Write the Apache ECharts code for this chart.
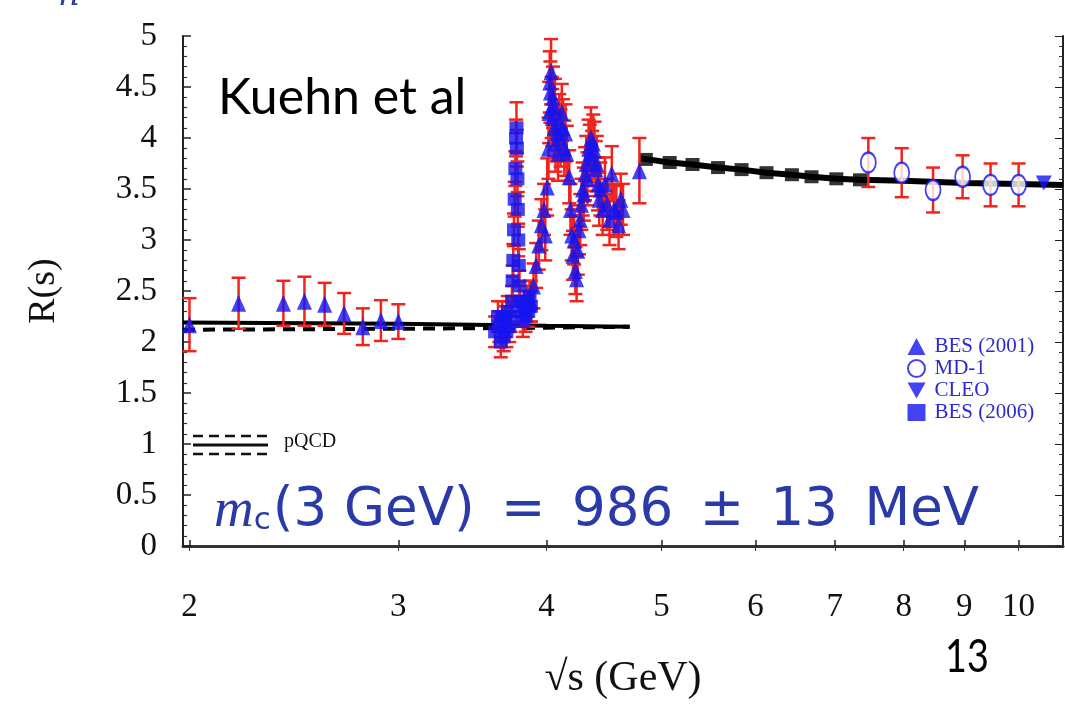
<!DOCTYPE html>
<html>
<head>
<meta charset="utf-8">
<script src="https://cdn.jsdelivr.net/npm/echarts@6/dist/echarts.min.js"></script>
<style>
html,body{margin:0;padding:0;background:#fff;}
#chart{width:1065px;height:705px;}
</style>
</head>
<body>
<div id="chart"></div>
<script>
// ---------------- data ----------------
const xTickValues = [2, 3, 4, 5, 6, 7, 8, 9, 10];
const yTickLabels = ['0', '0.5', '1', '1.5', '2', '2.5', '3', '3.5', '4', '4.5', '5'];

// BES (2001): [sqrt(s) GeV, R, error]
const bes2001Low = [
  [2.00, 2.17, 0.26], [2.20, 2.38, 0.25], [2.40, 2.38, 0.22], [2.50, 2.40, 0.24],
  [2.60, 2.37, 0.21], [2.70, 2.28, 0.20], [2.80, 2.15, 0.18], [2.90, 2.21, 0.20],
  [3.00, 2.20, 0.17]
];
const bes2001Res = [
  [3.88, 2.40, 0.20], [3.90, 2.55, 0.22], [3.92, 2.75, 0.22], [3.94, 2.95, 0.24],
  [3.96, 3.15, 0.25], [3.98, 3.30, 0.25], [3.99, 3.05, 0.25], [4.005, 3.52, 0.28],
  [4.015, 3.90, 0.30], [4.020, 4.25, 0.30], [4.025, 4.55, 0.30], [4.030, 4.45, 0.30],
  [4.035, 4.65, 0.32], [4.040, 4.30, 0.30], [4.045, 4.20, 0.28], [4.050, 4.40, 0.30],
  [4.060, 4.10, 0.28], [4.065, 4.30, 0.28], [4.070, 3.95, 0.28], [4.080, 4.05, 0.28],
  [4.090, 3.85, 0.27], [4.100, 4.15, 0.28], [4.110, 4.00, 0.28], [4.120, 4.25, 0.28],
  [4.130, 4.10, 0.28], [4.140, 3.90, 0.27], [4.150, 4.05, 0.28], [4.160, 3.85, 0.27],
  [4.180, 3.62, 0.26], [4.190, 3.30, 0.25], [4.200, 3.05, 0.25], [4.210, 2.85, 0.24],
  [4.220, 3.00, 0.24], [4.230, 2.70, 0.23], [4.240, 2.62, 0.22], [4.250, 2.90, 0.24],
  [4.260, 3.10, 0.24], [4.270, 3.20, 0.25], [4.280, 3.35, 0.25], [4.290, 3.50, 0.26],
  [4.300, 3.45, 0.26], [4.310, 3.65, 0.26], [4.320, 3.75, 0.27], [4.330, 3.60, 0.26],
  [4.340, 3.90, 0.28], [4.350, 3.85, 0.28], [4.360, 4.00, 0.30], [4.370, 3.80, 0.27],
  [4.380, 3.95, 0.28], [4.390, 3.88, 0.28], [4.400, 3.70, 0.27], [4.410, 3.75, 0.27],
  [4.420, 3.55, 0.26], [4.430, 3.40, 0.26], [4.440, 3.50, 0.26], [4.460, 3.30, 0.25],
  [4.480, 3.55, 0.26], [4.500, 3.35, 0.25], [4.520, 3.20, 0.25], [4.540, 3.65, 0.27],
  [4.560, 3.30, 0.25], [4.580, 3.28, 0.25], [4.600, 3.15, 0.24], [4.620, 3.40, 0.25],
  [4.640, 3.30, 0.25], [4.790, 3.68, 0.32]
];
// BES (2006)
const bes2006 = [
  [3.620, 2.10, 0.15], [3.640, 2.25, 0.15],
  [3.650, 2.15, 0.15], [3.660, 2.00, 0.15], [3.670, 2.25, 0.15], [3.680, 2.05, 0.14],
  [3.690, 2.20, 0.15], [3.700, 2.10, 0.15], [3.710, 2.30, 0.15], [3.720, 2.15, 0.15],
  [3.730, 2.25, 0.15], [3.740, 2.40, 0.15], [3.745, 2.60, 0.15], [3.750, 2.80, 0.16],
  [3.755, 3.10, 0.16], [3.760, 3.40, 0.17], [3.765, 3.70, 0.17], [3.770, 4.00, 0.18],
  [3.773, 4.10, 0.25], [3.776, 3.90, 0.18], [3.780, 3.60, 0.17], [3.783, 3.30, 0.17],
  [3.786, 3.00, 0.16], [3.790, 2.75, 0.16], [3.795, 2.55, 0.15], [3.800, 2.40, 0.15],
  [3.810, 2.30, 0.15], [3.820, 2.20, 0.15], [3.830, 2.35, 0.15], [3.840, 2.25, 0.15],
  [3.850, 2.40, 0.15], [3.860, 2.30, 0.15], [3.870, 2.45, 0.15], [3.880, 2.35, 0.15]
];
// MD-1
const md1 = [
  [7.47, 3.76, 0.24], [7.97, 3.66, 0.24], [8.47, 3.49, 0.22],
  [8.97, 3.62, 0.21], [9.47, 3.54, 0.21], [10.0, 3.54, 0.21]
];
// CLEO
const cleo = [[10.5, 3.56, 0.05]];

// pQCD curves
const pqcdLowSolid = [[1.975, 2.19], [3.0, 2.18], [4.0, 2.16], [4.7, 2.15]];
const pqcdLowDashed = [[1.975, 2.12], [3.0, 2.13], [4.0, 2.14], [4.7, 2.15]];
const pqcdHigh = [
  [4.80, 3.80], [5.08, 3.76], [5.31, 3.74], [5.58, 3.71], [5.84, 3.69], [6.13, 3.66],
  [6.44, 3.64], [6.69, 3.62], [7.02, 3.60], [7.35, 3.59], [8.0, 3.58], [9.0, 3.56],
  [10.0, 3.55], [10.9, 3.54]
];
const pqcdPoints = [
  [4.85, 3.79], [5.08, 3.76], [5.31, 3.74], [5.58, 3.71], [5.84, 3.69], [6.13, 3.66],
  [6.44, 3.64], [6.69, 3.62], [7.02, 3.60], [7.35, 3.59]
];

// ---------------- style ----------------
const BLUE = '#1414f0';
const RED = '#f0241c';
const FORM = '#2a3aa8';
const SERIF = '"Liberation Serif", "DejaVu Serif", serif';

const allErr = bes2001Low.concat(bes2001Res, bes2006, md1);

function errRender(params, api) {
  const x = api.value(0), y = api.value(1), e = api.value(2);
  const pLo = api.coord([x, y - e]);
  const pHi = api.coord([x, y + e]);
  const w = 7;
  const st = { stroke: RED, lineWidth: 2.5 };
  return {
    type: 'group',
    children: [
      { type: 'line', shape: { x1: pLo[0], y1: pLo[1], x2: pHi[0], y2: pHi[1] }, style: st },
      { type: 'line', shape: { x1: pLo[0] - w, y1: pLo[1], x2: pLo[0] + w, y2: pLo[1] }, style: st },
      { type: 'line', shape: { x1: pHi[0] - w, y1: pHi[1], x2: pHi[0] + w, y2: pHi[1] }, style: st }
    ]
  };
}

const DOWN_TRI = 'path://M0,0L20,0L10,18Z';
const ENSP = '\u2002';

const chart = echarts.init(document.getElementById('chart'), null, { renderer: 'canvas' });
const option = {
  animation: false,
  backgroundColor: '#fff',
  grid: { left: 183, right: 2, top: 36, bottom: 150, show: false },
  xAxis: [{
    type: 'log', logBase: 10, min: 1.975, max: 10.9,
    position: 'bottom',
    axisLine: { show: true, lineStyle: { color: '#222', width: 2 } },
    axisTick: { show: true, inside: true, length: 6, customValues: xTickValues, lineStyle: { color: '#222', width: 1.5 } },
    minorTick: { show: false },
    splitLine: { show: false },
    axisLabel: { customValues: xTickValues, margin: 45, fontFamily: SERIF, fontSize: 33, color: '#111' },
    name: '√s (GeV)', nameLocation: 'middle', nameGap: 112,
    nameTextStyle: { fontFamily: SERIF, fontSize: 42, color: '#111' }
  }, {
    type: 'log', logBase: 10, min: 1.975, max: 10.9,
    position: 'top',
    axisLine: { show: true, lineStyle: { color: '#333', width: 3 } },
    axisTick: { show: true, inside: true, length: 5, customValues: xTickValues, lineStyle: { color: '#333' } },
    axisLabel: { show: false },
    splitLine: { show: false }
  }],
  yAxis: [{
    type: 'value', min: 0, max: 5, interval: 0.5,
    axisLine: { show: true, lineStyle: { color: '#222', width: 2 } },
    axisTick: { show: true, inside: true, length: 8, lineStyle: { color: '#222', width: 1.5 } },
    minorTick: { show: true, splitNumber: 5, length: 4, lineStyle: { color: '#333', width: 1.2 } },
    splitLine: { show: false },
    axisLabel: { margin: 26, fontFamily: SERIF, fontSize: 33, color: '#111',
      formatter: function (v) { return yTickLabels[Math.round(v / 0.5)]; } },
    name: 'R(s)', nameLocation: 'middle', nameGap: 120, nameRotate: 90,
    nameTextStyle: { fontFamily: SERIF, fontSize: 38, color: '#111' }
  }, {
    type: 'value', min: 0, max: 5, interval: 0.5, position: 'right',
    axisLine: { show: true, lineStyle: { color: '#222', width: 2 } },
    axisTick: { show: true, inside: true, length: 8, lineStyle: { color: '#222' } },
    minorTick: { show: true, splitNumber: 5, length: 4, lineStyle: { color: '#333' } },
    splitLine: { show: false },
    axisLabel: { show: false }
  }],
  legend: {
    orient: 'vertical', left: 902, top: 331,
    itemWidth: 18, itemHeight: 17, itemGap: 1,
    textStyle: { fontFamily: SERIF, fontSize: 21, lineHeight: 21, color: '#2a2ad0', padding: [0, 0, 0, 4] },
    data: [
      { name: 'BES (2001)', icon: 'triangle' },
      { name: 'MD-1', icon: 'emptyCircle' },
      { name: 'CLEO', icon: DOWN_TRI },
      { name: 'BES (2006)', icon: 'rect' }
    ]
  },
  graphic: [
    { type: 'text', left: 218, top: 73, style: { text: 'Kuehn et al', font: '50px Lato, "Open Sans", sans-serif', fill: '#000' } },
    { type: 'text', left: 945, top: 634, scaleX: 0.82, style: { text: '13', font: '46px Lato, sans-serif', fill: '#000' } },
    { type: 'text', left: 214, top: 484, style: {
        text: '{m|m}{c|c}{t|(3 GeV)' + ENSP + '=' + ENSP + '986' + ENSP + '±' + ENSP + '13' + ENSP + 'MeV}',
        rich: {
          m: { fontFamily: SERIF, fontStyle: 'italic', fontSize: 55, fill: FORM },
          c: { fontFamily: '"DejaVu Sans", sans-serif', fontSize: 31, fill: FORM, padding: [18, 2, 0, 0] },
          t: { fontFamily: '"DejaVu Sans", sans-serif', fontSize: 53, fill: FORM }
        }
      } },
    // pQCD key
    { type: 'line', shape: { x1: 193, y1: 436, x2: 268, y2: 436 }, style: { stroke: '#111', lineWidth: 2.5, lineDash: [10, 6] } },
    { type: 'line', shape: { x1: 193, y1: 445, x2: 268, y2: 445 }, style: { stroke: '#111', lineWidth: 3 } },
    { type: 'line', shape: { x1: 193, y1: 454, x2: 268, y2: 454 }, style: { stroke: '#111', lineWidth: 2.5, lineDash: [10, 6] } },
    { type: 'text', left: 284, top: 432, style: { text: 'pQCD', font: '20px "Liberation Serif", serif', fill: '#111' } },
    // partial glyph at top-left
    { type: 'text', left: 20, top: -40, style: {
        text: '{a|σ}{b|h}',
        rich: {
          a: { fontFamily: '"DejaVu Serif", serif', fontStyle: 'italic', fontSize: 48, fill: '#444' },
          b: { fontFamily: '"DejaVu Serif", serif', fontStyle: 'italic', fontSize: 34, fill: '#2b3fa0', padding: [24, 0, 0, 6] }
        }
      } }
  ],
  series: [
    { name: 'pQCD-low', type: 'line', data: pqcdLowSolid, symbol: 'none', lineStyle: { color: '#000', width: 4 }, z: 1, silent: true },
    { name: 'pQCD-low-d', type: 'line', data: pqcdLowDashed, symbol: 'none', lineStyle: { color: '#000', width: 4, type: [12, 8] }, z: 1, silent: true },
    { name: 'pQCD-high', type: 'line', data: pqcdHigh, symbol: 'none', lineStyle: { color: '#000', width: 6 }, z: 1, silent: true },
    { name: 'pQCD-pts', type: 'scatter', data: pqcdPoints, symbol: 'rect', symbolSize: [14, 13], itemStyle: { color: '#000' }, z: 1 },
    { name: 'errors', type: 'custom', data: allErr, renderItem: errRender, encode: { x: 0, y: 1 }, z: 2, silent: true },
    { name: 'BES (2001)', type: 'scatter', data: bes2001Low.concat(bes2001Res), symbol: 'triangle', symbolSize: [15, 17], itemStyle: { color: BLUE }, z: 3 },
    { name: 'BES (2006)', type: 'scatter', data: bes2006, symbol: 'rect', symbolSize: [14, 13], itemStyle: { color: BLUE }, z: 3 },
    { name: 'MD-1', type: 'scatter', data: md1, symbol: 'emptyCircle', symbolSize: [15, 20], itemStyle: { color: BLUE, borderColor: BLUE, borderWidth: 3 }, z: 3 },
    { name: 'CLEO', type: 'scatter', data: cleo, symbol: DOWN_TRI, symbolSize: [16, 15], itemStyle: { color: BLUE }, z: 3 }
  ]
};
chart.setOption(option);
</script>
</body>
</html>
